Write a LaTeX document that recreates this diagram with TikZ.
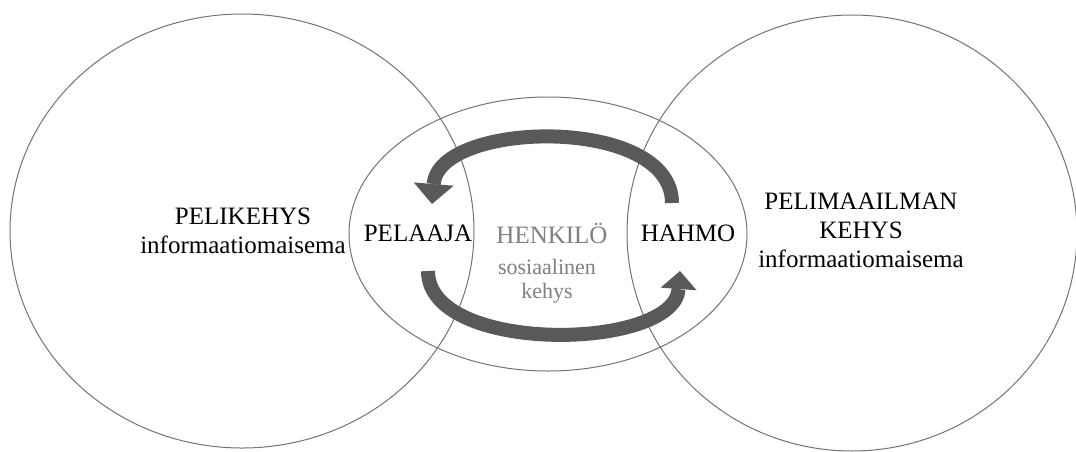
\documentclass[tikz,border=0pt]{standalone}
\usepackage{fontspec}
\setmainfont{Liberation Serif}
\usetikzlibrary{arrows.meta}
\tikzset{
  frame/.style={draw=black!55, line width=1pt},
  lbl/.style={inner sep=0pt, align=center, font=\fontsize{25}{29}\selectfont},
  soft/.style={lbl, text=black!50},
  small/.style={soft, font=\fontsize{22}{24.5}\selectfont},
  loop/.style={draw=black!65, line width=14pt},
}
\begin{document}
\begin{tikzpicture}[x=1pt,y=-1pt]
\useasboundingbox (0,0) rectangle (1076,451);
% ---- the three frames ----
\draw[frame] (242,231) ellipse [x radius=232, y radius=217];
\draw[frame] (852,233) ellipse [x radius=225, y radius=218];
\draw[frame] (548,234) ellipse [x radius=199, y radius=137];
% ---- labels ----
\node[lbl] (pelikehys) at (243,231) {PELIKEHYS\\informaatiomaisema};
\node[lbl] (maailma) at (861,230) {PELIMAAILMAN\\KEHYS\\informaatiomaisema};
\node[lbl] (pelaaja) at (418,233) {PELAAJA};
\node[soft] (henkilo) at (552,233) {HENKILÖ};
\node[lbl] (hahmo) at (688,233) {HAHMO};
\node[small] (sosiaalinen) at (547,281) {sosiaalinen\\kehys};
% ---- the loop between player and character ----
\coordinate (uptail) at (672,203);
\coordinate (uptip) at (432,204);
\coordinate (lowtail) at (428,271);
\coordinate (lowtip) at (680,271);
\draw[loop, -{Triangle[width=40pt,length=20pt,line width=0pt]}]
  (uptail) .. controls +(0,-88) and +(7,-84) .. (uptip);
\draw[loop, -{Triangle[width=36pt,length=18pt,line width=0pt]}]
  (lowtail) .. controls +(0,84) and +(-6,80) .. (lowtip);
\end{tikzpicture}
\end{document}
